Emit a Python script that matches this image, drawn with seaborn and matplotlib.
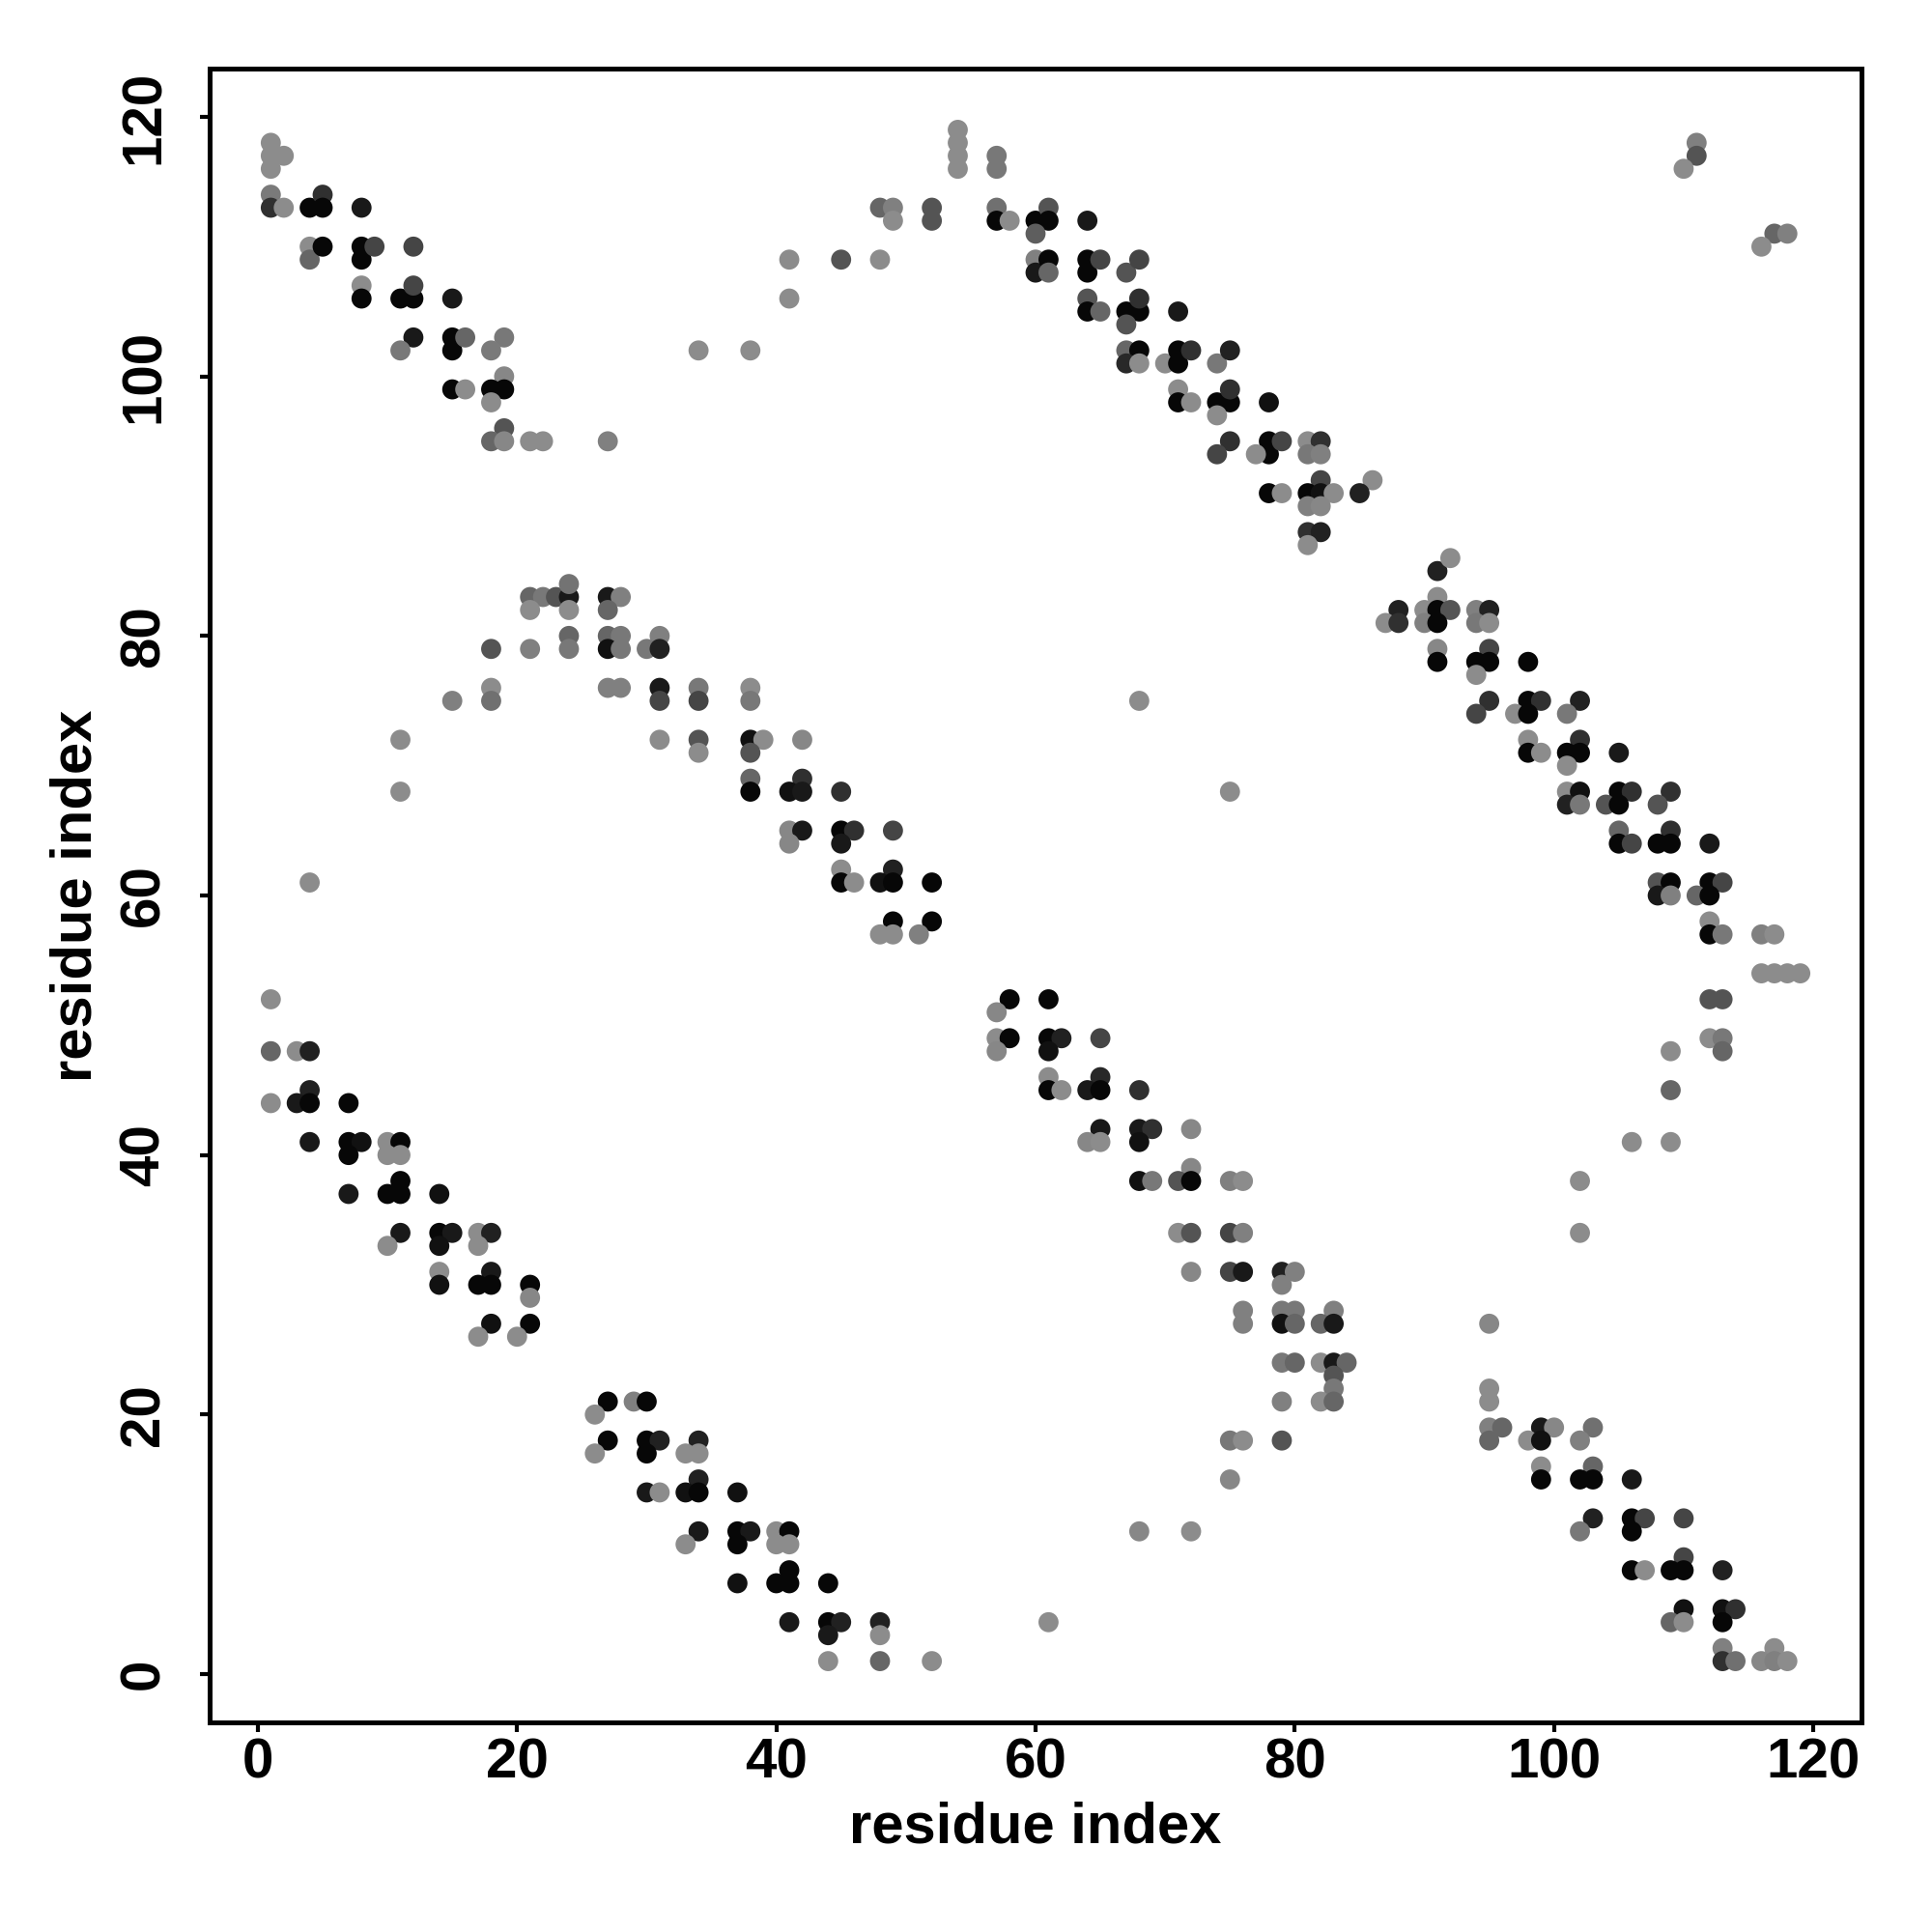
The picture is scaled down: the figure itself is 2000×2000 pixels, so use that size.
"""
Residue contact map: pairs of residue indices drawn as grey dots,
darker dots for closer contacts. Saves out.png (2000x2000).
"""

import matplotlib.pyplot as plt
import pandas as pd
import seaborn as sns
from matplotlib.colors import LinearSegmentedColormap

# (residue i, residue j, grey level 0=black .. 0.55=light grey)
upper_left = [
    (1, 118, .55), (1, 117, .55), (2, 117, .55), (1, 116, .55), (1, 114, .48),
    (1, 113, .19), (2, 113, .55), (4, 113, .03), (5, 114, .19), (5, 113, .03),
    (8, 113, .10), (4, 110, .55), (4, 109, .40), (5, 110, .03), (8, 110, .03),
    (8, 109, .03), (9, 110, .27), (12, 110, .27), (8, 107, .55), (8, 106, .03),
    (11, 106, .03), (12, 106, .03), (12, 107, .27), (15, 106, .10),
    (12, 103, .10), (11, 102, .47), (15, 103, .03), (15, 102, .03),
    (16, 103, .40), (19, 103, .47), (18, 102, .48), (19, 100, .53),
    (15, 99, .03), (16, 99, .55), (18, 99, .03), (19, 99, .03), (18, 98, .55),
    (19, 96, .33), (18, 95, .40), (19, 95, .53), (21, 95, .55), (22, 95, .55),
    (27, 95, .50), (34, 102, .55), (38, 102, .55), (41, 109, .55),
    (41, 106, .55), (45, 109, .33), (48, 109, .55),
]

upper_middle = [
    (54, 119, .55), (54, 118, .55), (54, 117, .55), (54, 116, .55),
    (57, 117, .47), (57, 116, .47), (48, 113, .40), (49, 113, .50),
    (49, 112, .55), (52, 113, .33), (52, 112, .33), (57, 113, .44),
    (57, 112, .03), (58, 112, .55), (60, 112, .03), (61, 113, .33),
    (61, 112, .03), (60, 111, .37), (60, 109, .50), (60, 108, .10),
    (61, 109, .03), (61, 108, .40), (64, 112, .10), (64, 109, .03),
    (64, 108, .03), (65, 109, .27), (67, 108, .33), (68, 109, .27),
    (64, 106, .33), (64, 105, .03), (65, 105, .40), (67, 105, .03),
    (68, 105, .03), (68, 106, .19), (67, 104, .33), (71, 105, .10),
    (67, 102, .40), (68, 102, .03), (67, 101, .16), (68, 101, .55),
    (70, 101, .55), (71, 102, .03), (71, 101, .03), (72, 102, .19),
    (74, 101, .47), (75, 102, .13), (71, 99, .55), (71, 98, .03),
    (72, 98, .55), (74, 98, .03), (75, 98, .03), (75, 99, .19), (74, 97, .55),
    (78, 98, .07), (75, 95, .19), (74, 94, .27), (78, 95, .03), (78, 94, .03),
    (77, 94, .55), (79, 95, .27), (81, 95, .55), (82, 95, .19), (81, 94, .47),
    (82, 94, .50), (82, 92, .27), (86, 92, .55), (78, 91, .03), (79, 91, .55),
    (81, 91, .03), (82, 91, .07), (83, 91, .55), (85, 91, .13), (81, 90, .50),
    (82, 90, .53), (81, 88, .19), (82, 88, .13), (81, 87, .55),
]

upper_right = [
    (111, 118, .50), (111, 117, .33), (110, 116, .55), (117, 111, .40),
    (118, 111, .50), (116, 110, .55),
]

middle_left = [
    (21, 83, .40), (22, 83, .47), (23, 83, .33), (24, 83, .10), (24, 84, .45),
    (21, 82, .55), (24, 82, .55), (27, 83, .10), (28, 83, .50), (27, 82, .40),
    (24, 80, .40), (27, 80, .40), (28, 80, .47), (31, 80, .50), (18, 79, .33),
    (21, 79, .50), (24, 79, .47), (27, 79, .07), (28, 79, .47), (30, 79, .47),
    (31, 79, .13), (18, 76, .55), (27, 76, .50), (28, 76, .50), (31, 76, .10),
    (34, 76, .47), (38, 76, .55), (15, 75, .50), (18, 75, .44), (31, 75, .27),
    (34, 75, .27), (38, 75, .47), (11, 72, .55), (31, 72, .55), (34, 72, .33),
    (38, 72, .07), (39, 72, .55), (34, 71, .55), (38, 71, .33), (38, 69, .40),
    (11, 68, .55), (38, 68, .03), (4, 61, .55), (1, 52, .55), (1, 48, .40),
    (3, 48, .55), (4, 48, .13), (4, 45, .13), (1, 44, .55), (3, 44, .10),
    (4, 44, .03), (7, 44, .03), (4, 41, .10), (7, 41, .03), (8, 41, .07),
    (10, 41, .55), (11, 41, .03), (7, 40, .03), (10, 40, .55), (11, 40, .55),
]

middle_center = [
    (42, 72, .53), (42, 69, .19), (41, 68, .07), (42, 68, .10), (45, 68, .19),
    (68, 75, .55), (75, 68, .55), (41, 65, .53), (42, 65, .10), (45, 65, .03),
    (46, 65, .19), (49, 65, .27), (41, 64, .53), (45, 64, .10), (45, 62, .55),
    (49, 62, .13), (45, 61, .03), (46, 61, .55), (48, 61, .07), (49, 61, .03),
    (52, 61, .03), (49, 58, .03), (52, 58, .03), (48, 57, .55), (49, 57, .55),
    (51, 57, .50), (58, 52, .03), (61, 52, .03), (57, 51, .53), (57, 49, .55),
    (58, 49, .03), (61, 49, .03), (62, 49, .13), (65, 49, .27), (57, 48, .53),
    (61, 48, .07), (61, 46, .55), (65, 46, .16), (61, 45, .03), (62, 45, .55),
    (64, 45, .10), (65, 45, .03), (68, 45, .19), (65, 42, .10), (68, 42, .10),
    (69, 42, .19), (72, 42, .53), (64, 41, .53), (65, 41, .55), (68, 41, .07),
]

middle_right = [
    (91, 85, .13), (92, 86, .55), (91, 83, .55), (88, 82, .13), (90, 82, .55),
    (91, 82, .03), (92, 82, .33), (94, 82, .50), (95, 82, .13), (87, 81, .55),
    (88, 81, .19), (90, 81, .50), (91, 81, .03), (94, 81, .47), (95, 81, .55),
    (91, 79, .53), (95, 79, .27), (91, 78, .03), (94, 78, .03), (95, 78, .03),
    (98, 78, .03), (94, 77, .55), (95, 75, .19), (98, 75, .03), (99, 75, .19),
    (102, 75, .13), (94, 74, .27), (97, 74, .55), (98, 74, .03), (101, 74, .47),
    (98, 72, .55), (102, 72, .19), (98, 71, .03), (99, 71, .55), (101, 71, .03),
    (102, 71, .03), (105, 71, .10), (101, 70, .55), (101, 68, .55),
    (102, 68, .07), (105, 68, .03), (106, 68, .19), (109, 68, .19),
    (101, 67, .13), (102, 67, .47), (104, 67, .33), (105, 67, .03),
    (108, 67, .33), (105, 65, .40), (109, 65, .19), (105, 64, .03),
    (106, 64, .27), (108, 64, .03), (109, 64, .03), (112, 64, .10),
    (108, 61, .33), (109, 61, .03), (112, 61, .03), (113, 61, .27),
    (108, 60, .10), (109, 60, .50), (111, 60, .40), (112, 60, .03),
    (112, 58, .55), (112, 57, .03), (113, 57, .47), (116, 57, .50),
    (117, 57, .55), (116, 54, .55), (117, 54, .55), (118, 54, .55),
    (119, 54, .55), (112, 52, .33), (113, 52, .33), (112, 49, .55),
    (113, 49, .47), (113, 48, .40), (109, 48, .55), (109, 45, .40),
    (106, 41, .55), (109, 41, .55),
]

lower_left = [
    (11, 38, .03), (7, 37, .10), (10, 37, .03), (11, 37, .03), (14, 37, .07),
    (11, 34, .10), (14, 34, .03), (15, 34, .10), (17, 34, .55), (18, 34, .13),
    (10, 33, .55), (14, 33, .07), (17, 33, .55), (14, 31, .55), (18, 31, .10),
    (14, 30, .07), (17, 30, .03), (18, 30, .03), (21, 30, .03), (21, 29, .53),
    (18, 27, .07), (21, 27, .03), (17, 26, .55), (20, 26, .55), (27, 21, .03),
    (29, 21, .50), (30, 21, .03), (26, 20, .55), (27, 18, .03), (30, 18, .03),
    (31, 18, .13), (34, 18, .13), (26, 17, .55), (30, 17, .03), (33, 17, .55),
    (34, 17, .55), (34, 15, .13), (30, 14, .10), (31, 14, .55), (33, 14, .07),
    (34, 14, .03), (37, 14, .07), (34, 11, .10), (37, 11, .03), (38, 11, .10),
    (33, 10, .55), (37, 10, .03), (37, 7, .07),
]

lower_center = [
    (72, 39, .53), (68, 38, .07), (69, 38, .47), (71, 38, .33), (72, 38, .03),
    (75, 38, .50), (76, 38, .55), (71, 34, .55), (72, 34, .33), (75, 34, .27),
    (76, 34, .50), (72, 31, .53), (75, 31, .27), (76, 31, .10), (79, 31, .13),
    (80, 31, .50), (79, 30, .50), (76, 28, .50), (79, 28, .47), (80, 28, .47),
    (76, 27, .50), (79, 27, .07), (80, 27, .40), (79, 24, .47), (80, 24, .40),
    (79, 21, .50), (75, 18, .47), (76, 18, .55), (79, 18, .33), (75, 15, .53),
    (68, 11, .53), (72, 11, .55), (40, 11, .55), (41, 11, .03), (40, 10, .55),
    (41, 10, .55), (41, 8, .03), (40, 7, .03), (41, 7, .03), (44, 7, .03),
    (41, 4, .10), (44, 4, .03), (45, 4, .13), (48, 4, .13), (61, 4, .55),
    (44, 3, .10), (48, 3, .55), (44, 1, .55), (48, 1, .40), (52, 1, .55),
]

lower_right = [
    (83, 28, .50), (82, 27, .40), (83, 27, .10), (95, 27, .53), (82, 24, .55),
    (83, 24, .10), (84, 24, .40), (83, 23, .33), (83, 22, .47), (82, 21, .55),
    (83, 21, .40), (95, 22, .55), (95, 21, .55), (95, 19, .50), (96, 19, .40),
    (99, 19, .10), (100, 19, .53), (103, 19, .44), (95, 18, .40), (98, 18, .55),
    (99, 18, .07), (102, 18, .50), (99, 16, .55), (103, 16, .40), (99, 15, .03),
    (102, 15, .03), (103, 15, .03), (106, 15, .10), (103, 12, .13),
    (106, 12, .03), (107, 12, .27), (110, 12, .27), (102, 11, .47),
    (106, 11, .03), (110, 9, .27), (106, 8, .03), (107, 8, .55), (109, 8, .03),
    (110, 8, .03), (113, 8, .13), (110, 5, .07), (113, 5, .07), (114, 5, .19),
    (109, 4, .40), (110, 4, .55), (113, 4, .03), (113, 2, .50), (117, 2, .55),
    (113, 1, .19), (114, 1, .44), (116, 1, .53), (117, 1, .50), (118, 1, .55),
    (102, 38, .55), (102, 34, .55),
]

ticks = [0, 20, 40, 60, 80, 100, 120]


def main():
    sns.set_theme(style="white")
    plt.rcParams["font.family"] = ["Liberation Sans", "DejaVu Sans"]
    plt.rcParams["font.weight"] = "bold"
    plt.rcParams["text.color"] = "black"
    plt.rcParams["axes.labelcolor"] = "black"
    plt.rcParams["xtick.color"] = "black"
    plt.rcParams["ytick.color"] = "black"

    blocks = [upper_left, upper_middle, upper_right, middle_left,
              middle_center, middle_right, lower_left, lower_center,
              lower_right]
    rows = [p for b in blocks for p in b]
    df = pd.DataFrame(rows, columns=["i", "j", "grey"])

    fig = plt.figure(figsize=(10, 10), dpi=200)
    ax = fig.add_axes([0.1085, 0.1085, 0.855, 0.856])

    grey = LinearSegmentedColormap.from_list("grey", ["black", "white"])
    sns.scatterplot(data=df, x="i", y="j", hue="grey", palette=grey,
                    hue_norm=(0, 1), s=56, linewidth=0, legend=False,
                    ax=ax)

    ax.set_xlim(-3.72, 123.72)
    ax.set_ylim(-3.72, 123.72)
    ax.set_xticks(ticks)
    ax.set_yticks(ticks)

    for side in ax.spines.values():
        side.set_linewidth(1.8)
        side.set_color("black")

    ax.tick_params(axis="both", direction="out", length=3.6, width=1.5,
                   color="black", labelcolor="black", labelsize=21,
                   bottom=True, left=True)
    ax.tick_params(axis="x", pad=2)
    ax.tick_params(axis="y", pad=11, labelrotation=90)
    for lab in ax.get_yticklabels():
        lab.set_va("center")
        lab.set_fontweight("bold")
    for lab in ax.get_xticklabels():
        lab.set_fontweight("bold")

    ax.set_xlabel("residue index", fontsize=21.5, fontweight="bold",
                  va="center", color="black")
    ax.set_ylabel("residue index", fontsize=21.5, fontweight="bold",
                  va="center", color="black")
    ax.xaxis.set_label_coords(0.5, -0.0637)
    ax.yaxis.set_label_coords(-0.0807, 0.5)

    fig.savefig("out.png", dpi=200, facecolor="white")


if __name__ == "__main__":
    main()
